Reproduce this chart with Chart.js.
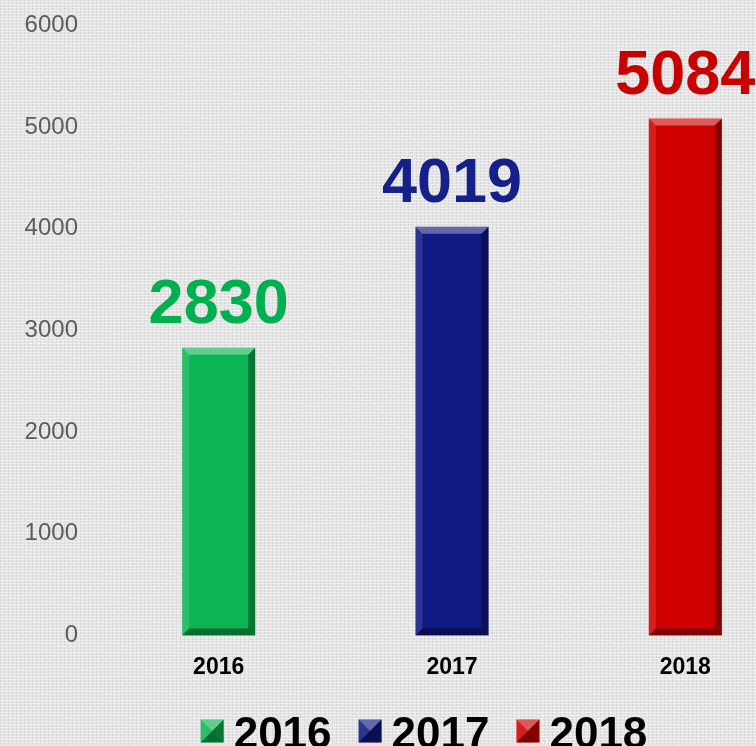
<!DOCTYPE html>
<html lang="en">
<head>
    <meta charset="UTF-8">
    <title>2016 - 2018</title>
    <script src="https://cdn.jsdelivr.net/npm/chart.js@4"></script>
    <style>
        html, body {
            margin: 0;
            padding: 0;
            width: 756px;
            height: 746px;
            overflow: hidden;
        }
        body {
            background-color: #e3e3e3;
            background-image:
                repeating-linear-gradient(0deg, rgba(255,255,255,0.45) 0 1px, transparent 1px 3px),
                repeating-linear-gradient(90deg, rgba(0,0,0,0.06) 0 1px, transparent 1px 4px),
                repeating-linear-gradient(45deg, rgba(255,255,255,0.15) 0 2px, transparent 2px 5px);
        }
        .wrap {
            position: relative;
            top: -13px;
            width: 842px;
            height: 793px;
        }
    </style>
</head>
<body>
    <div class="wrap">
        <canvas id="yearChart"></canvas>
    </div>

    <script>
        // Jahre und Werte
        const years = ['2016', '2017', '2018'];
        const totals = [2830, 4019, 5084];
        const barColors = ['#0cb552', '#101a82', '#d00000'];
        const labelColors = ['#00b050', '#15208a', '#c80000'];
        const yTicks = [0, 1000, 2000, 3000, 4000, 5000, 6000];

        const FONT = 'Arial, "Liberation Sans", sans-serif';
        const MARKER = 23;

        // Abgeschraegte Kanten auf ein Rechteck zeichnen
        function bevel(ctx, l, t, r, b, s) {
            const quad = (pts, fill) => {
                ctx.beginPath();
                ctx.moveTo(pts[0][0], pts[0][1]);
                for (let i = 1; i < pts.length; i++) ctx.lineTo(pts[i][0], pts[i][1]);
                ctx.closePath();
                ctx.fillStyle = fill;
                ctx.fill();
            };
            quad([[l, t], [r, t], [r - s, t + s], [l + s, t + s]], 'rgba(255,255,255,0.35)');
            quad([[l, t], [l + s, t + s], [l + s, b - s], [l, b]], 'rgba(255,255,255,0.12)');
            quad([[r, t], [r, b], [r - s, b - s], [r - s, t + s]], 'rgba(0,0,0,0.35)');
            quad([[l, b], [l + s, b - s], [r - s, b - s], [r, b]], 'rgba(0,0,0,0.4)');
        }

        const bevelPlugin = {
            id: 'bevel',
            afterDatasetsDraw(chart) {
                const ctx = chart.ctx;
                ctx.save();
                chart.getDatasetMeta(0).data.forEach((bar) => {
                    const half = bar.width / 2;
                    bevel(ctx, bar.x - half, bar.y, bar.x + half, bar.base, 7);
                });
                ctx.restore();
            }
        };

        // Werte ueber den Balken
        const valueLabels = {
            id: 'valueLabels',
            afterDatasetsDraw(chart) {
                const ctx = chart.ctx;
                ctx.save();
                ctx.font = 'bold 63px ' + FONT;
                ctx.textAlign = 'center';
                ctx.textBaseline = 'alphabetic';
                chart.getDatasetMeta(0).data.forEach((bar, i) => {
                    ctx.fillStyle = labelColors[i];
                    ctx.fillText(String(totals[i]), bar.x, bar.y - 25);
                });
                ctx.restore();
            }
        };

        // Legende etwas nach rechts und oben ruecken
        const legendShift = {
            id: 'legendShift',
            afterLayout(chart) {
                const legend = chart.legend;
                if (!legend) return;
                legend.left += 23;
                legend.right += 23;
                legend.top -= 12;
                legend.bottom -= 12;
            }
        };

        // Legendensymbole als kleine Pyramiden (ueber dem schmalen Standardfeld)
        const legendBoxes = {
            id: 'legendBoxes',
            afterDraw(chart) {
                const legend = chart.legend;
                if (!legend || !legend.legendHitBoxes) return;
                const ctx = chart.ctx;
                ctx.save();
                legend.legendHitBoxes.forEach((hb, i) => {
                    const l = hb.left;
                    const t = hb.top + (hb.height - MARKER) / 2 - 5;
                    ctx.fillStyle = barColors[i];
                    ctx.fillRect(l, t, MARKER, MARKER);
                    bevel(ctx, l, t, l + MARKER, t + MARKER, MARKER / 2);
                });
                ctx.restore();
            }
        };

        const ctx = document.getElementById('yearChart').getContext('2d');
        new Chart(ctx, {
            type: 'bar',
            data: {
                labels: years,
                datasets: [{
                    data: totals,
                    backgroundColor: barColors,
                    borderWidth: 0,
                    categoryPercentage: 1,
                    barPercentage: 0.313
                }]
            },
            options: {
                responsive: true,
                maintainAspectRatio: false,
                animation: false,
                layout: {
                    padding: { top: 0, right: 40, bottom: 0, left: 0 }
                },
                plugins: {
                    tooltip: { enabled: false },
                    legend: {
                        position: 'bottom',
                        labels: {
                            boxWidth: 11,
                            boxHeight: 23,
                            padding: 27,
                            color: '#000',
                            font: { family: FONT, size: 44, weight: 'bold' },
                            generateLabels: () => years.map((y, i) => ({
                                text: y,
                                fillStyle: 'rgba(0,0,0,0)',
                                strokeStyle: 'rgba(0,0,0,0)',
                                lineWidth: 0,
                                hidden: false,
                                index: i
                            }))
                        }
                    }
                },
                scales: {
                    x: {
                        grid: { display: false, drawTicks: false },
                        border: { display: false },
                        ticks: {
                            color: '#000',
                            padding: 18,
                            font: { family: FONT, size: 23, weight: 'bold' }
                        }
                    },
                    y: {
                        min: 0,
                        max: 6000,
                        afterBuildTicks: (scale) => {
                            scale.ticks = yTicks.map(v => ({ value: v }));
                        },
                        afterFit: (scale) => {
                            scale.width = 102;
                        },
                        grid: { display: false, drawTicks: false },
                        border: { display: false },
                        ticks: {
                            color: '#5d5d5d',
                            padding: 24,
                            callback: (v) => String(v),
                            font: { family: FONT, size: 24 }
                        }
                    }
                }
            },
            plugins: [legendShift, bevelPlugin, valueLabels, legendBoxes]
        });
    </script>
</body>
</html>
